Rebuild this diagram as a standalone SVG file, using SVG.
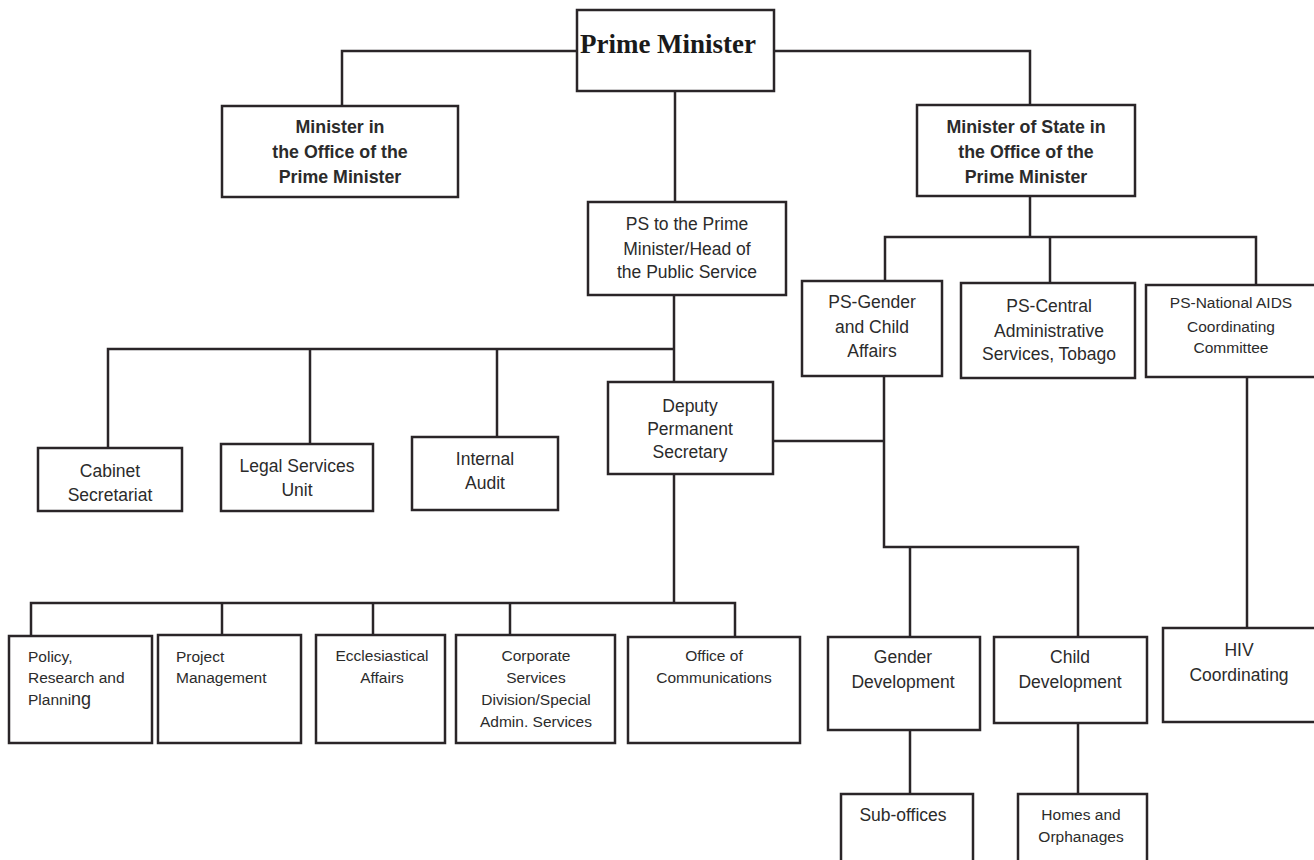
<svg xmlns="http://www.w3.org/2000/svg" width="1314" height="860" viewBox="0 0 1314 860">
<style>
rect.b{fill:#fff;stroke:#2a2528;stroke-width:2.5}
.c path{fill:none;stroke:#2a2528;stroke-width:2.5}
text{font-family:"Liberation Sans",Arial,sans-serif;fill:#2b2b2b;text-anchor:middle}
.bd{font-weight:bold;font-size:17.8px}
.r{font-size:17.5px}
.s{font-size:15.5px}
.l{text-anchor:start}
.pm{font-family:"Liberation Serif","Times New Roman",serif;font-weight:bold;font-size:27px;fill:#1a1a1a}
</style>
<rect width="1314" height="860" fill="#fff"/>
<g class="c">
<path d="M577,51 H342 V106"/>
<path d="M774,51 H1030 V105"/>
<path d="M675,91 V202"/>
<path d="M674,295 V382"/>
<path d="M108,448 V349 H674"/>
<path d="M310,349 V444"/>
<path d="M497,349 V437"/>
<path d="M1030,196 V237"/>
<path d="M885,281 V237 H1256 V285"/>
<path d="M1050,237 V283"/>
<path d="M773,441 H884"/>
<path d="M884,376 V547 H1078 V637"/>
<path d="M910,547 V637"/>
<path d="M674,474 V603"/>
<path d="M31,636 V603 H735 V637"/>
<path d="M222,603 V635"/>
<path d="M373,603 V635"/>
<path d="M510,603 V635"/>
<path d="M1247,377 V628"/>
<path d="M910,730 V794"/>
<path d="M1078,723 V794"/>
</g>
<g id="pm"><rect class="b" x="577" y="10" width="197" height="81"/><text class="pm" x="668" y="53">Prime Minister</text></g>
<g id="min-opm"><rect class="b" x="222" y="106" width="236" height="91"/><text class="bd" x="340" y="133">Minister in</text><text class="bd" x="340" y="158">the Office of the</text><text class="bd" x="340" y="183">Prime Minister</text></g>
<g id="mos-opm"><rect class="b" x="917" y="105" width="218" height="91"/><text class="bd" x="1026" y="133">Minister of State in</text><text class="bd" x="1026" y="158">the Office of the</text><text class="bd" x="1026" y="183">Prime Minister</text></g>
<g id="ps-pm"><rect class="b" x="588" y="202" width="198" height="93"/><text class="r" x="687" y="230">PS to the Prime</text><text class="r" x="687" y="255">Minister/Head of</text><text class="r" x="687" y="278">the Public Service</text></g>
<g id="ps-gender"><rect class="b" x="802" y="281" width="140" height="95"/><text class="r" x="872" y="308">PS-Gender</text><text class="r" x="872" y="333">and Child</text><text class="r" x="872" y="357">Affairs</text></g>
<g id="ps-central"><rect class="b" x="961" y="283" width="174" height="95"/><text class="r" x="1049" y="312">PS-Central</text><text class="r" x="1049" y="337">Administrative</text><text class="r" x="1049" y="360">Services, Tobago</text></g>
<g id="ps-aids"><rect class="b" x="1146" y="285" width="172" height="92"/><text class="s" x="1231" y="308">PS-National AIDS</text><text class="s" x="1231" y="332">Coordinating</text><text class="s" x="1231" y="353">Committee</text></g>
<g id="cabinet"><rect class="b" x="38" y="448" width="144" height="63"/><text class="r" x="110" y="477">Cabinet</text><text class="r" x="110" y="501">Secretariat</text></g>
<g id="legal"><rect class="b" x="221" y="444" width="152" height="67"/><text class="r" x="297" y="472">Legal Services</text><text class="r" x="297" y="496">Unit</text></g>
<g id="audit"><rect class="b" x="412" y="437" width="146" height="73"/><text class="r" x="485" y="465">Internal</text><text class="r" x="485" y="489">Audit</text></g>
<g id="dps"><rect class="b" x="608" y="382" width="165" height="92"/><text class="r" x="690" y="412">Deputy</text><text class="r" x="690" y="435">Permanent</text><text class="r" x="690" y="458">Secretary</text></g>
<g id="policy"><rect class="b" x="9" y="636" width="143" height="107"/><text class="s l" x="28" y="662">Policy,</text><text class="s l" x="28" y="683">Research and</text><text class="s l" x="28" y="705">Planni<tspan font-size="18">ng</tspan></text></g>
<g id="project"><rect class="b" x="158" y="635" width="143" height="108"/><text class="s l" x="176" y="662">Project</text><text class="s l" x="176" y="683">Management</text></g>
<g id="eccl"><rect class="b" x="316" y="635" width="129" height="108"/><text class="s" x="382" y="661">Ecclesiastical</text><text class="s" x="382" y="683">Affairs</text></g>
<g id="corporate"><rect class="b" x="456" y="635" width="159" height="108"/><text class="s" x="536" y="661">Corporate</text><text class="s" x="536" y="683">Services</text><text class="s" x="536" y="705">Division/Special</text><text class="s" x="536" y="727">Admin. Services</text></g>
<g id="comms"><rect class="b" x="628" y="637" width="172" height="106"/><text class="s" x="714" y="661">Office of</text><text class="s" x="714" y="683">Communications</text></g>
<g id="gender-dev"><rect class="b" x="828" y="637" width="152" height="93"/><text class="r" x="903" y="663">Gender</text><text class="r" x="903" y="688">Development</text></g>
<g id="child-dev"><rect class="b" x="994" y="637" width="153" height="86"/><text class="r" x="1070" y="663">Child</text><text class="r" x="1070" y="688">Development</text></g>
<g id="hiv"><rect class="b" x="1163" y="628" width="155" height="94"/><text class="r" x="1239" y="656">HIV</text><text class="r" x="1239" y="681">Coordinating</text></g>
<g id="sub-offices"><rect class="b" x="841" y="794" width="132" height="80"/><text class="r" x="903" y="821">Sub-offices</text></g>
<g id="homes"><rect class="b" x="1018" y="794" width="129" height="80"/><text class="s" x="1081" y="820">Homes and</text><text class="s" x="1081" y="842">Orphanages</text></g>
</svg>
